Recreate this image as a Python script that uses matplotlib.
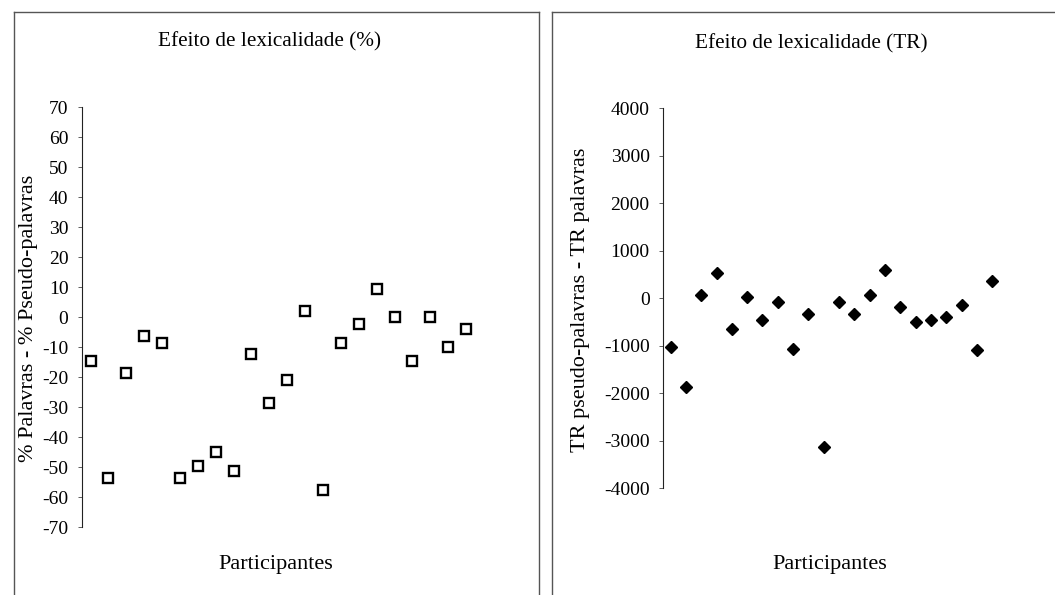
import matplotlib
matplotlib.use("Agg")
import matplotlib.pyplot as plt
from matplotlib.lines import Line2D

plt.rcParams['font.family'] = ['Liberation Serif', 'DejaVu Serif']
plt.rcParams['axes.unicode_minus'] = False

participants = list(range(1, 23))

# Lexicality effect: % words - % pseudo-words
pct_effect = [-14.6, -53.6, -18.5, -6.2, -8.5, -53.6, -49.5, -44.9, -51.2, -12.2, -28.7,
              -20.8, 2.1, -57.6, -8.5, -2.2, 9.4, 0.0, -14.7, 0.0, -10.1, -4.0]

# Lexicality effect: RT pseudo-words - RT words
rt_effect = [-1025, -1861, 70, 526, -640, 35, -457, -78, -1061, -324, -3137,
             -78, -324, 70, 596, -189, -499, -463, -400, -147, -1095, 371]

pct_ticks = list(range(-70, 71, 10))
rt_ticks = list(range(-4000, 4001, 1000))

W, H = 1055, 595
fig = plt.figure(figsize=(W / 100, H / 100), dpi=100)
fig.patch.set_facecolor('white')

# Panel frames
frame_color = '#555555'
for x0, x1 in [(14, 539), (552, 1055)]:
    fig.add_artist(Line2D([x0 / W, x0 / W], [0, 1 - 12 / H], transform=fig.transFigure,
                          color=frame_color, lw=1.0))
    fig.add_artist(Line2D([x0 / W, x1 / W], [1 - 12 / H, 1 - 12 / H], transform=fig.transFigure,
                          color=frame_color, lw=1.0))
    if x1 < W:
        fig.add_artist(Line2D([x1 / W, x1 / W], [0, 1 - 12 / H], transform=fig.transFigure,
                              color=frame_color, lw=1.0))


def style_axis(ax):
    for side in ('top', 'right', 'bottom'):
        ax.spines[side].set_visible(False)
    ax.spines['left'].set_color('#222222')
    ax.spines['left'].set_linewidth(0.8)
    ax.tick_params(axis='x', bottom=False, labelbottom=False)
    ax.tick_params(axis='y', direction='out', length=3, width=0.6, color='#444444',
                   labelsize=14, pad=6.5)
    ax.set_facecolor('none')


def fig_text(x, y, s, **kw):
    fig.text(x / W, 1 - y / H, s, ha='center', va='center', **kw)


# Left panel
ax1 = fig.add_axes([81.6 / W, 1 - 527 / H, (475 - 81.6) / W, (527 - 107.3) / H])
ax1.plot(participants, pct_effect, linestyle='none', marker='s', markersize=7.3,
         markerfacecolor='white', markeredgecolor='black', markeredgewidth=1.7)
ax1.set_xlim(0.5, 22.5)
ax1.set_ylim(-70, 70)
ax1.set_yticks(pct_ticks)
style_axis(ax1)
fig_text(29, 318, '% Palavras - % Pseudo-palavras', rotation=90, fontsize=16)
fig_text(270, 42, 'Efeito de lexicalidade (%)', fontsize=15.3)
fig_text(276, 565, 'Participantes', fontsize=16)

# Right panel
ax2 = fig.add_axes([662.9 / W, 1 - 488.3 / H, (1000 - 662.9) / W, (488.3 - 108.3) / H])
ax2.plot(participants, rt_effect, linestyle='none', marker='D', markersize=6.3,
         markerfacecolor='black', markeredgecolor='black')
ax2.set_xlim(0.5, 22.5)
ax2.set_ylim(-4000, 4000)
ax2.set_yticks(rt_ticks)
style_axis(ax2)
fig_text(581, 300, 'TR pseudo-palavras - TR palavras', rotation=90, fontsize=16)
fig_text(811, 44, 'Efeito de lexicalidade (TR)', fontsize=15.3)
fig_text(830, 565, 'Participantes', fontsize=16)

fig.savefig('out.png', dpi=100, facecolor='white')
